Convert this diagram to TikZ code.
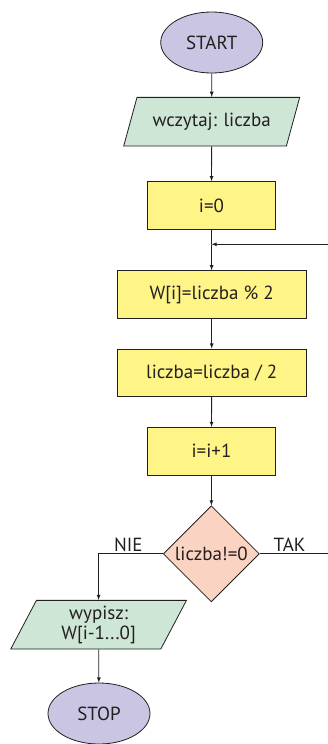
\documentclass[tikz,border=0pt]{standalone}
\usepackage{fontspec}
\setmainfont{PT Sans}
\usepackage{tikz}
\usetikzlibrary{arrows}
\usetikzlibrary{shapes.geometric}
\definecolor{mylilac}{RGB}{201,197,226}
\definecolor{mygreen}{RGB}{205,230,213}
\definecolor{myyellow}{RGB}{255,245,135}
\definecolor{mypeach}{RGB}{251,211,194}
\definecolor{myink}{RGB}{35,31,32}
\tikzset{
  termbox/.style={ellipse,draw=myink,fill=mylilac,line width=0.8pt,minimum width=102pt,minimum height=61pt,inner sep=0pt},
  iobox/.style={trapezium,trapezium left angle=59,trapezium right angle=121,trapezium stretches=true,draw=myink,fill=mygreen,line width=0.8pt,minimum width=176pt,minimum height=48.7pt,inner sep=0pt,align=center},
  opbox/.style={rectangle,draw=myink,fill=myyellow,line width=0.8pt,minimum height=47.7pt,inner sep=0pt},
  ifbox/.style={diamond,draw=myink,fill=mypeach,line width=0.8pt,minimum width=96pt,minimum height=96pt,inner sep=0pt,aspect=1},
  flow/.style={->,draw=myink,line width=0.8pt}
}

\begin{document}
\begin{tikzpicture}[>=latex,x=1pt,y=-1pt,font=\fontsize{19}{20}\selectfont,text=myink]
			\useasboundingbox (0,0) rectangle (328,744);

			% Draw the blocks
			\node[termbox] (start) at (211.7,42.5) {START};
			\node[iobox] (read) at (211.7,121.7) {wczytaj: liczba};
			\node[opbox,minimum width=127.7pt] (init) at (211.5,205.5) {i=0};
			\coordinate (join) at (211.5,244.3);
			\node[opbox,minimum width=188.7pt] (mod) at (211.7,294.5) {W[i]=liczba \% 2};
			\node[opbox,minimum width=188.7pt] (div) at (211.7,372.8) {liczba=liczba / 2};
			\node[opbox,minimum width=127.7pt] (inc) at (211.5,451.2) {i=i+1};
			\node[ifbox] (test) at (211.3,553.8) {liczba!=0};
			\node[iobox,text width=110pt] (write) at (98.6,624.7) {wypisz:\\W[i-1...0]};
			\node[termbox] (stop) at (99,713.5) {STOP};

			% Draw the branch labels
			\node (nie) at (128.3,545) {NIE};
			\node (tak) at (289.5,545) {TAK};

			% Draw the connectors
			\draw[flow] (start) -- (read);
			\draw[flow] (read) -- (init);
			\draw[draw=myink,line width=0.8pt] (init) -- (join);
			\draw[flow] (join) -- (mod);
			\draw[flow] (mod) -- (div);
			\draw[flow] (div) -- (inc);
			\draw[flow] (inc) -- (test);
			\draw[flow] (test.west) -| (write.north);
			\draw[flow] (write) -- (stop);
			\draw[flow] (test.east) -- ++(90,0) |- (join);
		\end{tikzpicture}
\end{document}
